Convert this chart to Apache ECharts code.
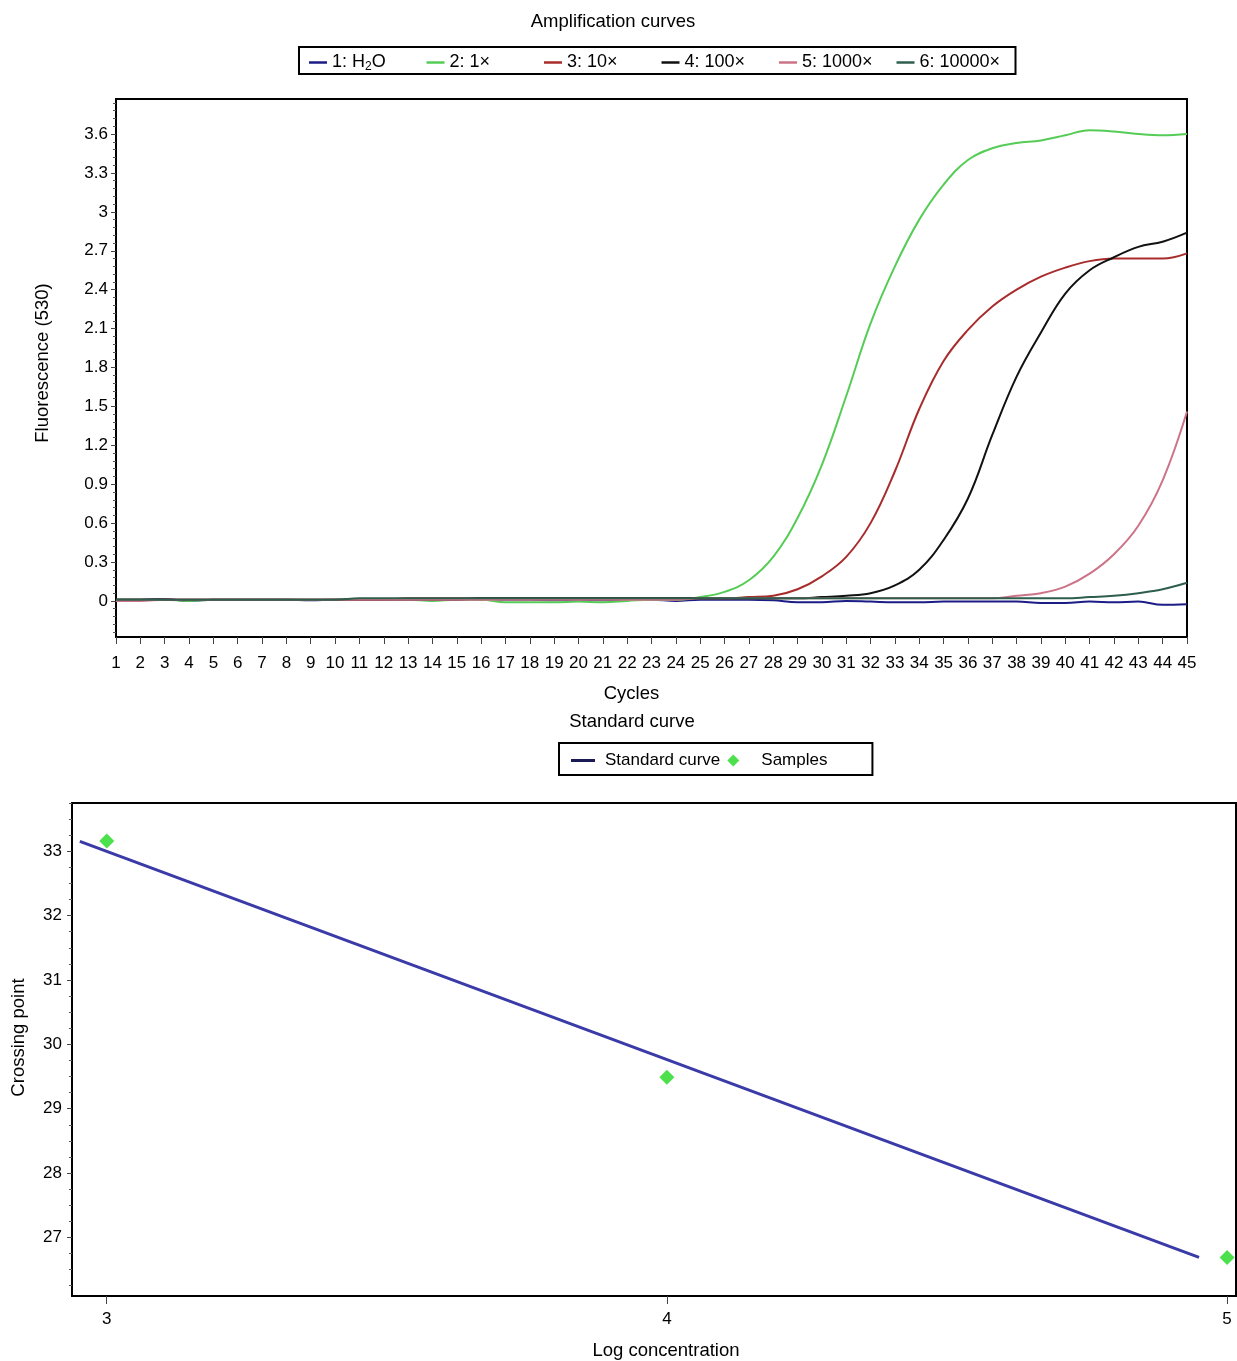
<!DOCTYPE html>
<html><head><meta charset="utf-8">
<script src="https://cdn.jsdelivr.net/npm/echarts@6/dist/echarts.min.js"></script>
<style>html,body{margin:0;padding:0;background:#fff}#c{width:1237px;height:1361px}</style>
</head><body><div id="c"></div>
<script>
// ---------- Data: amplification curves ----------
const cycles = [1,2,3,4,5,6,7,8,9,10,11,12,13,14,15,16,17,18,19,20,21,22,23,24,25,26,27,28,29,30,31,32,33,34,35,36,37,38,39,40,41,42,43,44,45];
const seriesNames = ['1: H2O','2: 1×','3: 10×','4: 100×','5: 1000×','6: 10000×'];
const h2o = [0.01,0.01,0.015,0.0,0.01,0.01,0.01,0.01,0.005,0.01,0.01,0.01,0.015,0.01,0.01,0.01,0.01,0.01,0.005,0.01,0.005,0.01,0.01,0.0,0.01,0.01,0.01,0.005,-0.01,-0.01,0.0,-0.005,-0.01,-0.01,-0.005,-0.005,-0.005,-0.005,-0.015,-0.015,-0.005,-0.01,-0.005,-0.03,-0.025];
const x1 = [0.01,0.01,0.01,0.0,0.01,0.01,0.01,0.01,0.01,0.01,0.01,0.01,0.01,0.0,0.01,0.01,-0.01,-0.01,-0.01,-0.005,-0.01,0.0,0.01,0.01,0.03,0.07,0.16,0.34,0.64,1.05,1.58,2.14,2.58,2.94,3.21,3.40,3.49,3.53,3.55,3.59,3.63,3.62,3.60,3.59,3.60];
const x10 = [0.01,0.01,0.01,0.01,0.01,0.01,0.01,0.01,0.01,0.01,0.01,0.01,0.02,0.02,0.02,0.02,0.02,0.02,0.02,0.02,0.02,0.02,0.02,0.02,0.02,0.02,0.03,0.04,0.09,0.19,0.34,0.60,1.00,1.48,1.85,2.09,2.27,2.40,2.50,2.57,2.62,2.64,2.64,2.64,2.68];
const x100 = [0.01,0.01,0.01,0.01,0.01,0.01,0.01,0.01,0.01,0.01,0.01,0.01,0.01,0.01,0.01,0.02,0.02,0.02,0.02,0.02,0.02,0.02,0.02,0.02,0.02,0.02,0.02,0.02,0.02,0.03,0.04,0.06,0.12,0.24,0.47,0.79,1.28,1.73,2.07,2.37,2.55,2.65,2.73,2.77,2.84];
const x1000 = [0.0,0.0,0.01,0.01,0.01,0.01,0.01,0.01,0.01,0.01,0.01,0.01,0.01,0.01,0.01,0.01,0.01,0.01,0.01,0.01,0.01,0.01,0.01,0.01,0.02,0.02,0.02,0.02,0.02,0.02,0.02,0.02,0.02,0.02,0.02,0.02,0.02,0.04,0.06,0.11,0.21,0.36,0.58,0.93,1.46];
const x10000 = [0.01,0.01,0.01,0.01,0.01,0.01,0.01,0.01,0.01,0.01,0.02,0.02,0.02,0.02,0.02,0.02,0.02,0.02,0.02,0.02,0.02,0.02,0.02,0.02,0.02,0.02,0.02,0.02,0.02,0.02,0.02,0.02,0.02,0.02,0.02,0.02,0.02,0.02,0.02,0.02,0.03,0.04,0.06,0.09,0.14];
const fluorTicks = [0,0.3,0.6,0.9,1.2,1.5,1.8,2.1,2.4,2.7,3,3.3,3.6];

// ---------- Data: standard curve ----------
const stdLineLog = [2.952, 4.95];
const stdLineCp = [33.155, 26.69];
const sampleLog = [3, 4, 5];
const sampleCp = [33.16, 29.49, 26.69];
const logTicks = [3, 4, 5];
const cpTicks = [27, 28, 29, 30, 31, 32, 33];

const colors = ['#1c1c86','#55cc55','#a82c2c','#111111','#cc7388','#2e5e4c'];
const FONT = "'Liberation Sans', Arial, sans-serif";

function zip(a, b) { return a.map((v, i) => [v, b[i]]); }
const curves = [h2o, x1, x10, x100, x1000, x10000];

// minor tick positions
const fluorMinor = [];
for (let k = -4; k <= 64; k++) { if (k % 5 !== 0) fluorMinor.push(Math.round(k * 6) / 100); }
const cpMinor = [];
for (let k = 105; k <= 135; k++) { if (k % 4 !== 0) cpMinor.push(k / 4); }

const axisLineStyle = { show: true, onZero: false, lineStyle: { color: '#000', width: 2 } };
const lblStyle = { color: '#000', fontSize: 17, fontFamily: FONT };
function nameStyle(pad) { return { color: '#000', fontSize: 18.5, fontFamily: FONT, padding: pad }; }

const chart = echarts.init(document.getElementById('c'), null, { renderer: 'canvas' });
chart.setOption({
  animation: false,
  backgroundColor: '#fff',
  textStyle: { fontFamily: FONT },
  title: [
    { text: 'Amplification curves', left: 613, top: 12, textAlign: 'center', padding: 0,
      textStyle: { fontSize: 18.5, fontWeight: 'normal', color: '#000', fontFamily: FONT } },
    { text: 'Standard curve', left: 632, top: 712, textAlign: 'center', padding: 0,
      textStyle: { fontSize: 18.5, fontWeight: 'normal', color: '#000', fontFamily: FONT } }
  ],
  legend: [
    {
      left: 299, top: 47, orient: 'horizontal', itemGap: 0,
      itemWidth: 18, itemHeight: 2.5, icon: 'rect',
      padding: [5, 8, 1, 10],
      borderColor: '#000', borderWidth: 2, borderRadius: 0,
      data: seriesNames.map((n, i) => i === 5 ? { name: n, textStyle: { width: 88 } } : { name: n }),
      formatter: function (name) { return name === '1: H2O' ? '1: H{sub|2}O' : name; },
      textStyle: { fontSize: 18, color: '#000', fontFamily: FONT, width: 94.5, lineHeight: 21,
        rich: { sub: { fontSize: 12, color: '#000', fontFamily: FONT, padding: [9, 0, 0, 0] } } }
    },
    {
      left: 559, top: 743, orient: 'horizontal', itemGap: 0,
      itemWidth: 24, itemHeight: 12,
      padding: [7, 45, 4, 12],
      borderColor: '#000', borderWidth: 2, borderRadius: 0,
      data: [
        { name: 'Standard curve', icon: 'path://M0,0 L24,0 L24,3 L0,3 Z', itemStyle: { color: '#1a1a55' },
          textStyle: { padding: [0, 7, 0, 5] } },
        { name: 'Samples', icon: 'path://M6,0 L12,6 L6,12 L0,6 Z', textStyle: { padding: [0, 0, 0, 11] } }
      ],
      textStyle: { fontSize: 17, color: '#000', fontFamily: FONT, lineHeight: 21 }
    }
  ],
  grid: [
    { left: 116, top: 99, width: 1071, height: 538, show: true, borderColor: '#000', borderWidth: 2, containLabel: false },
    { left: 72, top: 803, width: 1164, height: 493, show: true, borderColor: '#000', borderWidth: 2, containLabel: false }
  ],
  xAxis: [
    { type: 'value', gridIndex: 0, min: 1, max: 45, interval: 1,
      name: 'Cycles', nameLocation: 'middle', nameGap: 47, nameTextStyle: nameStyle([0, 40, 0, 0]),
      axisLine: axisLineStyle, splitLine: { show: false },
      axisTick: { show: true, length: 7, lineStyle: { color: '#444' } },
      axisLabel: Object.assign({ margin: 18, interval: 0, hideOverlap: false }, lblStyle) },
    { type: 'value', gridIndex: 1, min: 2.938, max: 5.016,
      name: 'Log concentration', nameLocation: 'middle', nameGap: 45, nameTextStyle: nameStyle([0, 0, 0, 24]),
      axisLine: axisLineStyle, splitLine: { show: false },
      axisTick: { show: true, length: 8, customValues: logTicks, lineStyle: { color: '#444' } },
      axisLabel: Object.assign({ margin: 15, customValues: logTicks }, lblStyle) }
  ],
  yAxis: [
    { type: 'value', gridIndex: 0, min: -0.278, max: 3.87,
      name: 'Fluorescence (530)', nameLocation: 'middle', nameGap: 64, nameRotate: 90, nameTextStyle: nameStyle([0, 0, 0, 10]),
      axisLine: axisLineStyle, splitLine: { show: false },
      axisTick: { show: true, length: 5, customValues: fluorTicks, lineStyle: { color: '#444' } },
      axisLabel: Object.assign({ margin: 8, customValues: fluorTicks }, lblStyle) },
    { type: 'value', gridIndex: 0, min: -0.278, max: 3.87, position: 'left',
      axisLine: { show: false, onZero: false }, splitLine: { show: false },
      axisTick: { show: true, length: 3, customValues: fluorMinor, lineStyle: { color: '#555' } },
      axisLabel: { show: false, customValues: [] } },
    { type: 'value', gridIndex: 1, min: 26.09, max: 33.75,
      name: 'Crossing point', nameLocation: 'middle', nameGap: 44, nameRotate: 90, nameTextStyle: nameStyle([0, 0, 0, 24]),
      axisLine: axisLineStyle, splitLine: { show: false },
      axisTick: { show: true, length: 5, customValues: cpTicks, lineStyle: { color: '#444' } },
      axisLabel: Object.assign({ margin: 10, customValues: cpTicks }, lblStyle) },
    { type: 'value', gridIndex: 1, min: 26.09, max: 33.75, position: 'left',
      axisLine: { show: false, onZero: false }, splitLine: { show: false },
      axisTick: { show: true, length: 3, customValues: cpMinor, lineStyle: { color: '#555' } },
      axisLabel: { show: false, customValues: [] } }
  ],
  series: curves.map((d, i) => ({
    name: seriesNames[i], type: 'line', xAxisIndex: 0, yAxisIndex: 0,
    data: zip(cycles, d), showSymbol: false, symbol: 'none',
    smooth: 0.4,
    lineStyle: { color: colors[i], width: 2 }, itemStyle: { color: colors[i] }
  })).concat([
    { name: 'Standard curve', type: 'line', xAxisIndex: 1, yAxisIndex: 2,
      data: zip(stdLineLog, stdLineCp), showSymbol: false, symbol: 'none',
      lineStyle: { color: '#3a3aa8', width: 3 }, itemStyle: { color: '#3a3aa8' } },
    { name: 'Samples', type: 'scatter', xAxisIndex: 1, yAxisIndex: 2,
      data: zip(sampleLog, sampleCp), symbol: 'diamond', symbolSize: 15, clip: false,
      itemStyle: { color: '#1fd81f' } }
  ])
});
</script></body></html>
